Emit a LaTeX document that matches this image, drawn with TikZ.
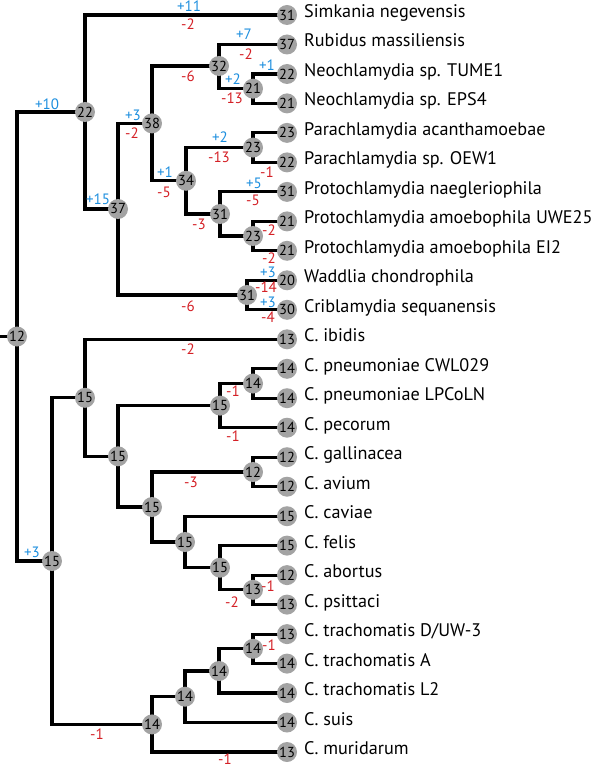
\documentclass[tikz,border=0pt]{standalone}
\usepackage{fontspec}
\setmainfont{PT Sans}
\usetikzlibrary{backgrounds}
\definecolor{nodegray}{RGB}{163,163,163}
\definecolor{gainblue}{RGB}{28,142,222}
\definecolor{lossred}{RGB}{212,32,38}
\begin{document}
\begin{tikzpicture}[x=1pt,y=-1pt,
  br/.style={line width=3.2pt,line join=miter,draw=black},
  circ/.style={circle,fill=nodegray,minimum size=20pt,inner sep=0pt,font=\fontsize{14.5}{14.5}\selectfont},
  gain/.style={text=gainblue,inner sep=0pt,font=\fontsize{15}{15}\selectfont},
  loss/.style={text=lossred,inner sep=0pt,font=\fontsize{15}{15}\selectfont},
  taxon/.style={anchor=base west,inner sep=0pt,font=\fontsize{18.2}{18.2}\selectfont}]
\useasboundingbox (0,0) rectangle (600,767);
% leaves
\node[circ] (l1) at (287,15) {31};
\node[circ] (l2) at (287,44.5) {37};
\node[circ] (l3) at (287,74) {22};
\node[circ] (l4) at (287,103.4) {21};
\node[circ] (l5) at (287,132.9) {23};
\node[circ] (l6) at (287,162.4) {22};
\node[circ] (l7) at (287,191.9) {31};
\node[circ] (l8) at (287,221.4) {21};
\node[circ] (l9) at (287,250.8) {21};
\node[circ] (l10) at (287,280.3) {20};
\node[circ] (l11) at (287,309.8) {30};
\node[circ] (l12) at (287,339.3) {13};
\node[circ] (l13) at (287,368.8) {14};
\node[circ] (l14) at (287,398.2) {14};
\node[circ] (l15) at (287,427.7) {14};
\node[circ] (l16) at (287,457.2) {12};
\node[circ] (l17) at (287,486.7) {12};
\node[circ] (l18) at (287,516.2) {15};
\node[circ] (l19) at (287,545.6) {15};
\node[circ] (l20) at (287,575.1) {12};
\node[circ] (l21) at (287,604.6) {13};
\node[circ] (l22) at (287,634.1) {13};
\node[circ] (l23) at (287,663.6) {14};
\node[circ] (l24) at (287,693) {14};
\node[circ] (l25) at (287,722.5) {14};
\node[circ] (l26) at (287,752) {13};
% taxon names
\node[taxon] (t1) at ([xshift=17pt,yshift=-2.5pt]l1.center) {Simkania negevensis};
\node[taxon] (t2) at ([xshift=17pt,yshift=-2.5pt]l2.center) {Rubidus massiliensis};
\node[taxon] (t3) at ([xshift=17pt,yshift=-2.5pt]l3.center) {Neochlamydia sp. TUME1};
\node[taxon] (t4) at ([xshift=17pt,yshift=-2.5pt]l4.center) {Neochlamydia sp. EPS4};
\node[taxon] (t5) at ([xshift=17pt,yshift=-2.5pt]l5.center) {Parachlamydia acanthamoebae};
\node[taxon] (t6) at ([xshift=17pt,yshift=-2.5pt]l6.center) {Parachlamydia sp. OEW1};
\node[taxon] (t7) at ([xshift=17pt,yshift=-2.5pt]l7.center) {Protochlamydia naegleriophila};
\node[taxon] (t8) at ([xshift=17pt,yshift=-2.5pt]l8.center) {Protochlamydia amoebophila UWE25};
\node[taxon] (t9) at ([xshift=17pt,yshift=-2.5pt]l9.center) {Protochlamydia amoebophila EI2};
\node[taxon] (t10) at ([xshift=17pt,yshift=-2.5pt]l10.center) {Waddlia chondrophila};
\node[taxon] (t11) at ([xshift=17pt,yshift=-2.5pt]l11.center) {Criblamydia sequanensis};
\node[taxon] (t12) at ([xshift=17pt,yshift=-2.5pt]l12.center) {C. ibidis};
\node[taxon] (t13) at ([xshift=17pt,yshift=-2.5pt]l13.center) {C. pneumoniae CWL029};
\node[taxon] (t14) at ([xshift=17pt,yshift=-2.5pt]l14.center) {C. pneumoniae LPCoLN};
\node[taxon] (t15) at ([xshift=17pt,yshift=-2.5pt]l15.center) {C. pecorum};
\node[taxon] (t16) at ([xshift=17pt,yshift=-2.5pt]l16.center) {C. gallinacea};
\node[taxon] (t17) at ([xshift=17pt,yshift=-2.5pt]l17.center) {C. avium};
\node[taxon] (t18) at ([xshift=17pt,yshift=-2.5pt]l18.center) {C. caviae};
\node[taxon] (t19) at ([xshift=17pt,yshift=-2.5pt]l19.center) {C. felis};
\node[taxon] (t20) at ([xshift=17pt,yshift=-2.5pt]l20.center) {C. abortus};
\node[taxon] (t21) at ([xshift=17pt,yshift=-2.5pt]l21.center) {C. psittaci};
\node[taxon] (t22) at ([xshift=17pt,yshift=-2.5pt]l22.center) {C. trachomatis D/UW-3};
\node[taxon] (t23) at ([xshift=17pt,yshift=-2.5pt]l23.center) {C. trachomatis A};
\node[taxon] (t24) at ([xshift=17pt,yshift=-2.5pt]l24.center) {C. trachomatis L2};
\node[taxon] (t25) at ([xshift=17pt,yshift=-2.5pt]l25.center) {C. suis};
\node[taxon] (t26) at ([xshift=17pt,yshift=-2.5pt]l26.center) {C. muridarum};
% internal nodes
\coordinate (stub) at (0,336.5);
\node[circ] (root) at (17,336.5) {12};
\node[circ] (n22) at (85,112) {22};
\node[circ] (n37) at (118,209) {37};
\node[circ] (n38) at (152,123.4) {38};
\node[circ] (n32) at (219,66) {32};
\node[circ] (n21) at (253,88.7) {21};
\node[circ] (n34) at (186,180.8) {34};
\node[circ] (n23a) at (253,147.6) {23};
\node[circ] (n31a) at (220,214) {31};
\node[circ] (n23b) at (253,236) {23};
\node[circ] (n31w) at (247,295) {31};
\node[circ] (n15a) at (52,561) {15};
\node[circ] (n15b) at (85,397.8) {15};
\node[circ] (n15c) at (118,456.3) {15};
\node[circ] (n15d) at (220,405.6) {15};
\node[circ] (n14a) at (253,383.5) {14};
\node[circ] (n15e) at (152,507) {15};
\node[circ] (n12) at (253,472) {12};
\node[circ] (n15f) at (185,542) {15};
\node[circ] (n15g) at (220,567.7) {15};
\node[circ] (n13) at (253,589.8) {13};
\node[circ] (n14t) at (152,724.4) {14};
\node[circ] (n14u) at (185,696.7) {14};
\node[circ] (n14v) at (219,671) {14};
\node[circ] (n14w) at (253,648.8) {14};
% branches
\begin{scope}[on background layer]
\draw[br] (stub) -- (root.center);
\draw[br] (root.center) |- (n22.center);
\draw[br] (root.center) |- (n15a.center);
\draw[br] (n22.center) |- (l1.center);
\draw[br] (n22.center) |- (n37.center);
\draw[br] (n37.center) |- (n38.center);
\draw[br] (n37.center) |- (n31w.center);
\draw[br] (n38.center) |- (n32.center);
\draw[br] (n38.center) |- (n34.center);
\draw[br] (n32.center) |- (l2.center);
\draw[br] (n32.center) |- (n21.center);
\draw[br] (n21.center) |- (l3.center);
\draw[br] (n21.center) |- (l4.center);
\draw[br] (n34.center) |- (n23a.center);
\draw[br] (n34.center) |- (n31a.center);
\draw[br] (n23a.center) |- (l5.center);
\draw[br] (n23a.center) |- (l6.center);
\draw[br] (n31a.center) |- (l7.center);
\draw[br] (n31a.center) |- (n23b.center);
\draw[br] (n23b.center) |- (l8.center);
\draw[br] (n23b.center) |- (l9.center);
\draw[br] (n31w.center) |- (l10.center);
\draw[br] (n31w.center) |- (l11.center);
\draw[br] (n15a.center) |- (n15b.center);
\draw[br] (n15a.center) |- (n14t.center);
\draw[br] (n15b.center) |- (l12.center);
\draw[br] (n15b.center) |- (n15c.center);
\draw[br] (n15c.center) |- (n15d.center);
\draw[br] (n15c.center) |- (n15e.center);
\draw[br] (n15d.center) |- (n14a.center);
\draw[br] (n15d.center) |- (l15.center);
\draw[br] (n14a.center) |- (l13.center);
\draw[br] (n14a.center) |- (l14.center);
\draw[br] (n15e.center) |- (n12.center);
\draw[br] (n15e.center) |- (n15f.center);
\draw[br] (n12.center) |- (l16.center);
\draw[br] (n12.center) |- (l17.center);
\draw[br] (n15f.center) |- (l18.center);
\draw[br] (n15f.center) |- (n15g.center);
\draw[br] (n15g.center) |- (l19.center);
\draw[br] (n15g.center) |- (n13.center);
\draw[br] (n13.center) |- (l20.center);
\draw[br] (n13.center) |- (l21.center);
\draw[br] (n14t.center) |- (n14u.center);
\draw[br] (n14t.center) |- (l26.center);
\draw[br] (n14u.center) |- (n14v.center);
\draw[br] (n14u.center) |- (l25.center);
\draw[br] (n14v.center) |- (n14w.center);
\draw[br] (n14v.center) |- (l24.center);
\draw[br] (n14w.center) |- (l22.center);
\draw[br] (n14w.center) |- (l23.center);
\end{scope}
% gains and losses
\node[gain] (g1) at (189,6.5) {+11};
\node[loss] (r1) at (188,24) {-2};
\node[gain] (g2) at (244,34) {+7};
\node[loss] (r2) at (246,54) {-2};
\node[loss] (r3) at (188,76) {-6};
\node[gain] (g3) at (233,79) {+2};
\node[loss] (r4) at (232,98) {-13};
\node[gain] (g4) at (267,65) {+1};
\node[gain] (g5) at (47,104) {+10};
\node[gain] (g6) at (133,115) {+3};
\node[loss] (r5) at (132,133) {-2};
\node[gain] (g7) at (220,137) {+2};
\node[loss] (r6) at (219,157) {-13};
\node[loss] (r7) at (267,172) {-1};
\node[gain] (g8) at (165,172) {+1};
\node[loss] (r8) at (164,192) {-5};
\node[gain] (g9) at (254,183) {+5};
\node[loss] (r9) at (253,200) {-5};
\node[loss] (r10) at (199,224) {-3};
\node[loss] (r11) at (269,230) {-2};
\node[loss] (r12) at (269,258) {-2};
\node[gain] (g10) at (98,199) {+15};
\node[gain] (g11) at (268,272) {+3};
\node[loss] (r13) at (266,287) {-14};
\node[gain] (g12) at (268,302) {+3};
\node[loss] (r14) at (268,317) {-4};
\node[loss] (r15) at (188,306) {-6};
\node[gain] (g13) at (32,552) {+3};
\node[loss] (r16) at (188,349) {-2};
\node[loss] (r17) at (233,391) {-1};
\node[loss] (r18) at (233,436) {-1};
\node[loss] (r19) at (191,482) {-3};
\node[loss] (r20) at (268,586) {-1};
\node[loss] (r21) at (232,602) {-2};
\node[loss] (r22) at (269,645) {-1};
\node[loss] (r23) at (97,734) {-1};
\node[loss] (r24) at (225,759) {-1};
\end{tikzpicture}
\end{document}
